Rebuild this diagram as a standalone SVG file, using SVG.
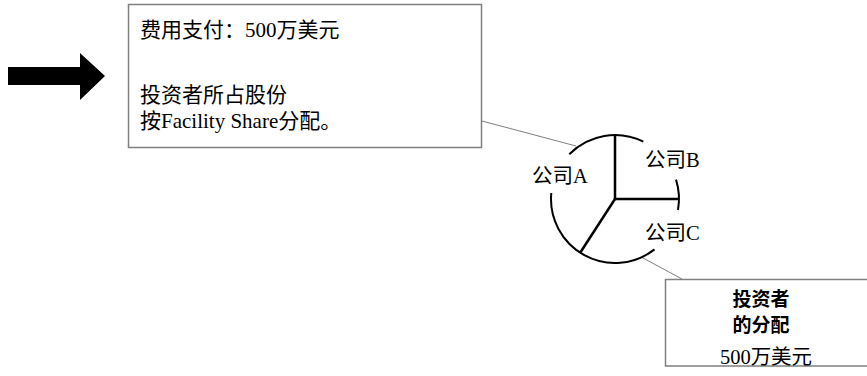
<svg xmlns="http://www.w3.org/2000/svg" width="867" height="376" viewBox="0 0 867 376">
<style>
.t{font-family:"Liberation Serif","Noto Sans CJK SC",serif;fill:#000}
.box{fill:#fff;stroke:#7f7f7f;stroke-width:1.5}
.conn{stroke:#7f7f7f;stroke-width:1;fill:none}
.arc{fill:none;stroke:#000;stroke-width:2}
.rad{stroke:#000;stroke-width:2.5}
</style>
<rect width="867" height="376" fill="#fff"/>
<g id="arrow">
<polygon points="8,67 80,67 80,53 105,76 80,100 80,85 8,85" fill="#000"/>
</g>
<g id="connectors">
<line class="conn" x1="482" y1="121" x2="576" y2="146"/>
<line class="conn" x1="643" y1="258" x2="682" y2="279"/>
</g>
<g id="box-payment">
<rect class="box" x="128.5" y="4.5" width="353" height="143"/>
<text class="t" x="140" y="37" font-size="21">费用支付：500万美元</text>
<text class="t" x="140" y="102" font-size="21">投资者所占股份</text>
<text class="t" x="140" y="128" font-size="21">按Facility Share分配。</text>
</g>
<g id="pie">
<path class="arc" d="M569.3,154.2 A64,64 0 0 1 643.3,141.6"/>
<path class="arc" d="M676,179.6 A64,64 0 0 1 678,210"/>
<path class="arc" d="M654.5,249.4 A64,64 0 0 1 551.3,193"/>
<line class="rad" x1="615" y1="199" x2="615" y2="135"/>
<line class="rad" x1="615" y1="199" x2="679" y2="199"/>
<line class="rad" x1="615" y1="199" x2="580" y2="253"/>
<text class="t" x="532" y="183" font-size="20.5">公司A</text>
<text class="t" x="645" y="167" font-size="20.5">公司B</text>
<text class="t" x="645" y="240" font-size="20.5">公司C</text>
</g>
<g id="box-distribution">
<rect class="box" x="665.5" y="279.5" width="210" height="86.5"/>
<text class="t" x="761" y="306" font-size="19" font-weight="bold" text-anchor="middle">投资者</text>
<text class="t" x="761" y="332" font-size="19" font-weight="bold" text-anchor="middle">的分配</text>
<text class="t" x="766" y="364" font-size="20.5" text-anchor="middle">500万美元</text>
</g>
</svg>
